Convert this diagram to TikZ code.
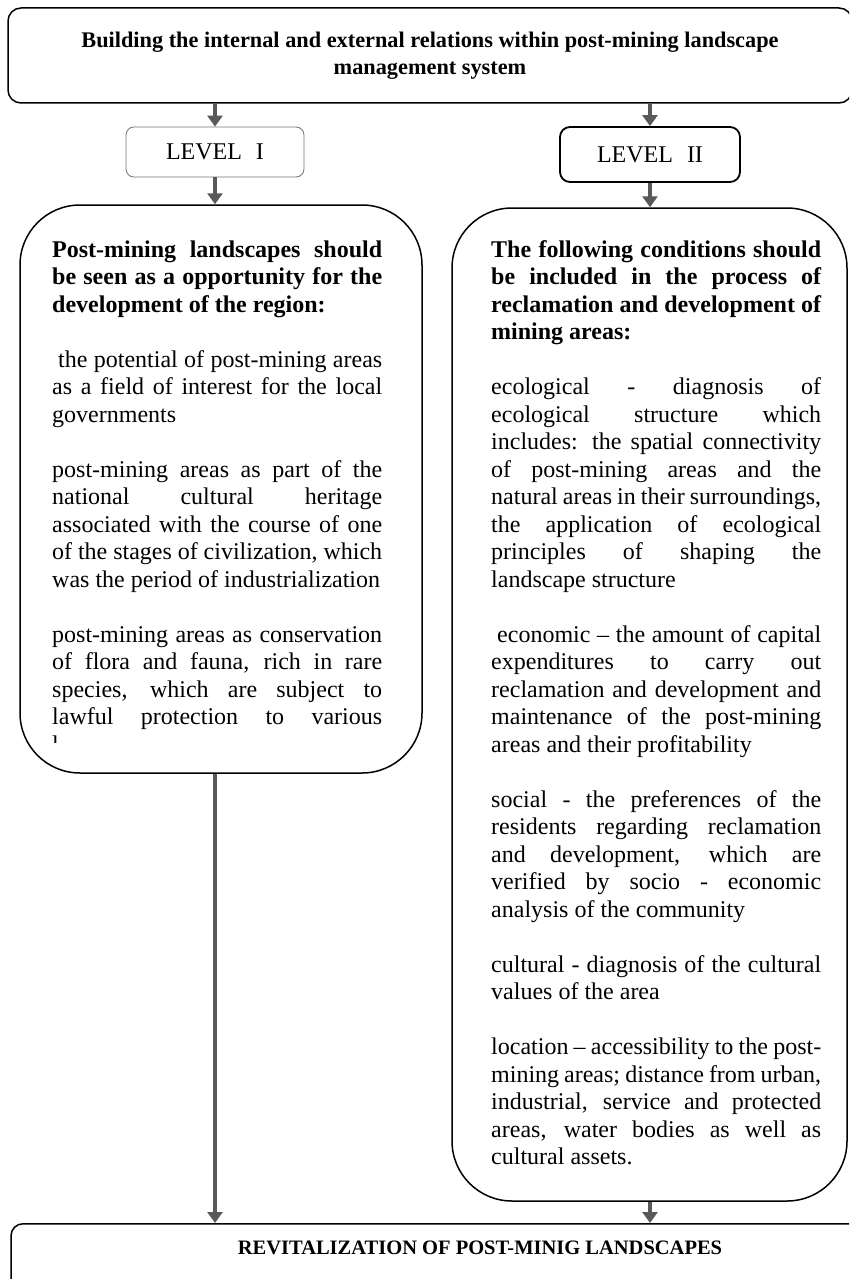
\documentclass[tikz,border=0pt]{standalone}
\usepackage{fontspec}
\setmainfont{Liberation Serif}
\usetikzlibrary{arrows.meta}

\newcommand{\paragap}{\par\vspace{27.5pt}}

\begin{document}
\begin{tikzpicture}[x=1pt, y=-1pt,
    boxline/.style={draw, line width=1.5pt},
    flow/.style={draw=black!65, line width=4pt, -{Triangle[width=15pt, length=11pt]}},
    bodytext/.style={text width=330pt, align=justify, inner sep=0pt, anchor=base west,
      font=\fontsize{24}{27.5}\selectfont},
  ]
  \useasboundingbox (0,0) rectangle (849,1279);
  \clip (0,0) rectangle (849,1279);

  % top and bottom boxes
  \node[boxline, rounded corners=13pt, minimum width=844pt, minimum height=95pt, align=center,
    font=\bfseries\fontsize{22.3}{26.5}\selectfont] (title) at (430,55.5)
    {Building the internal and external relations within post-mining landscape\\ management system};
  \node[boxline, rounded corners=12pt, anchor=north, minimum width=938pt, inner ysep=17pt,
    text height=14pt, text depth=60pt, font=\bfseries\fontsize{20.5}{24}\selectfont] (revit) at (480,1223)
    {REVITALIZATION OF POST-MINIG LANDSCAPES};

  % levels
  \node[draw=black!55, line width=0.8pt, rounded corners=8pt, minimum width=178pt, minimum height=50pt,
    font=\fontsize{24}{27}\selectfont] (lvlone) at (215,152) {LEVEL\hspace{14pt}I};
  \node[draw, line width=1.8pt, rounded corners=10pt, minimum width=180pt, minimum height=55pt,
    font=\fontsize{24}{27}\selectfont] (lvltwo) at (650,154.5) {LEVEL\hspace{14pt}II};

  % big boxes
  \node[boxline, rounded corners=60pt, minimum width=402pt, minimum height=568pt] (leftbox) at (221,489) {};
  \node[boxline, rounded corners=60pt, minimum width=395pt, minimum height=993pt] (rightbox) at (649.5,704.5) {};

  \begin{scope}
    \clip (20,205) rectangle (422,742);
    \node[bodytext] (lefttext) at (52,257)
      {\textbf{Post-mining landscapes should\linebreak be seen as a opportunity for the\linebreak development of the region:}\paragap
      \hspace*{6pt}the potential of post-mining areas\linebreak as a field of interest for the local\linebreak governments\paragap
      post-mining areas as part of the\linebreak national cultural heritage\linebreak associated with the course of one\linebreak of the stages of civilization, which\linebreak was the period of industrialization\paragap
      post-mining areas as conservation\linebreak of flora and fauna, rich in rare\linebreak species, which are subject to\linebreak lawful protection to various\linebreak l};
  \end{scope}

  \node[bodytext] (righttext) at (491,257)
    {\textbf{The following conditions should\linebreak be included in the process of\linebreak reclamation and development of\linebreak mining areas:}\paragap
    ecological - diagnosis of\linebreak ecological structure which\linebreak includes: the spatial connectivity\linebreak of post-mining areas and the\linebreak natural areas in their surroundings,\linebreak the application of ecological\linebreak principles of shaping the\linebreak landscape structure\paragap
    \hspace*{6pt}economic – the amount of capital\linebreak expenditures to carry out\linebreak reclamation and development and\linebreak maintenance of the post-mining\linebreak areas and their profitability\paragap
    social - the preferences of the\linebreak residents regarding reclamation\linebreak and development, which are\linebreak verified by socio - economic\linebreak analysis of the community\paragap
    cultural - diagnosis of the cultural\linebreak values of the area\paragap
    location – accessibility to the post-\linebreak mining areas; distance from urban,\linebreak industrial, service and protected\linebreak areas, water bodies as well as\linebreak cultural assets.};

  % arrows
  \draw[flow] (title.south -| lvlone.north) -- (lvlone.north);
  \draw[flow] (title.south -| lvltwo.north) -- (lvltwo.north);
  \draw[flow] (lvlone.south) -- (leftbox.north -| lvlone.south);
  \draw[flow] (lvltwo.south) -- (rightbox.north -| lvltwo.south);
  \draw[flow] (leftbox.south -| lvlone.south) -- (revit.north -| lvlone.south);
  \draw[flow] (rightbox.south -| lvltwo.south) -- (revit.north -| lvltwo.south);
\end{tikzpicture}
\end{document}
